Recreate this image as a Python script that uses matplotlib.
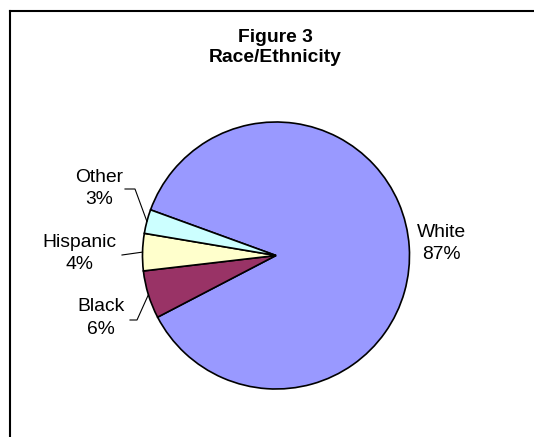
import matplotlib
matplotlib.use("Agg")
import matplotlib.pyplot as plt
from matplotlib.lines import Line2D
import numpy as np

# ---- data ----
categories = ["White", "Black", "Hispanic", "Other"]
values = [86.8, 5.8, 4.5, 2.9]
shown_pct = ["87%", "6%", "4%", "3%"]
colors = ["#9999FF", "#993366", "#FFFFCC", "#CCFFFF"]
title_lines = ["Figure 3", "Race/Ethnicity"]

W, H = 534, 437
DPI = 100
plt.rcParams['font.family'] = ['Liberation Sans', 'DejaVu Sans']
FS = 13.9

fig = plt.figure(figsize=(W / DPI, H / DPI), dpi=DPI)
fig.patch.set_facecolor("white")

# pie geometry in pixels (from top-left)
cx, cy, R = 276.0, 255.5, 133.5
ax = fig.add_axes([(cx - R) / W, (H - (cy + R)) / H, 2 * R / W, 2 * R / H])
wedges, _ = ax.pie(values, colors=colors, startangle=160, counterclock=False,
                   radius=1.0, wedgeprops=dict(edgecolor="black", linewidth=1.2))
ax.set_xlim(-1, 1)
ax.set_ylim(-1, 1)
ax.set_aspect("auto")
ax.axis("off")

def to_data(px, py):
    return (px - cx) / R, (cy - py) / R

# label positions (pixel centers) and leader line start/elbow (pixels)
label_pos = {"White": (441.5, 243.5), "Black": (101, 318),
             "Hispanic": (79.5, 253.5), "Other": (99, 188.5)}
leaders = {"Black": [(130, 320), (137, 320)],
           "Hispanic": [(122, 255), (122, 255)],
           "Other": [(125, 189), (135, 189)]}

for w, cat, pct in zip(wedges, categories, shown_pct):
    lx, ly = to_data(*label_pos[cat])
    ax.text(lx, ly, f"{cat}\n{pct}", ha="center", va="center", fontsize=FS,
            linespacing=1.4, color="black", clip_on=False)
    if cat in leaders:
        mid = np.deg2rad((w.theta1 + w.theta2) / 2)
        ex, ey = np.cos(mid), np.sin(mid)
        (sx, sy), (bx, by) = leaders[cat]
        sx, sy = to_data(sx, sy)
        bx, by = to_data(bx, by)
        ax.add_line(Line2D([sx, bx, ex], [sy, by, ey], color="black",
                           linewidth=0.8, clip_on=False))

# title
fig.text(275 / W, 1 - 37 / H, title_lines[0], ha="center", va="center",
         fontsize=FS, fontweight="bold")
fig.text(275 / W, 1 - 58 / H, title_lines[1], ha="center", va="center",
         fontsize=FS, fontweight="bold")

# outer frame (left and top visible)
fx, fy = 10 / W, 1 - 11 / H
fig.add_artist(Line2D([fx, fx], [fy, -0.01], color="black", linewidth=1.5,
                      transform=fig.transFigure))
fig.add_artist(Line2D([fx, 1.01], [fy, fy], color="black", linewidth=1.5,
                      transform=fig.transFigure))

fig.savefig("out.png", dpi=DPI)
